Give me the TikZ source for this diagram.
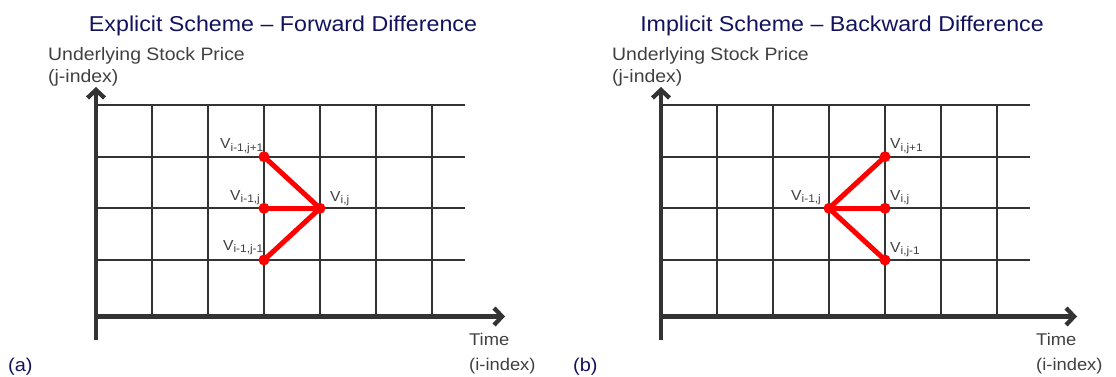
\documentclass[tikz,border=0pt]{standalone}
\usepackage{fontspec}
\setmainfont{Liberation Sans}[FakeStretch=1.08]
\usetikzlibrary{arrows.meta}
\definecolor{navy}{HTML}{12125E}
\definecolor{ink}{HTML}{333333}
\definecolor{txt}{HTML}{404040}
\definecolor{vred}{HTML}{FF0000}
\newcommand\Vlab[1]{V\raisebox{-2.8pt}{\fontsize{11}{11}\selectfont #1}}
\tikzset{
  gridline/.style={draw=ink, line width=2.2pt},
  axisline/.style={draw=ink, line width=4.3pt, -{Straight Barb[length=8pt,width=17pt]}},
  axisplain/.style={draw=ink, line width=4.3pt},
  vdot/.style={circle, fill=vred, draw=none, inner sep=0pt, minimum size=11pt},
  redline/.style={draw=vred, line width=5pt, line cap=round},
  titletext/.style={text=navy, inner sep=0pt, font=\fontsize{21.5}{24}\selectfont},
  axlabel/.style={text=txt, inner sep=0pt, align=left, font=\fontsize{18}{21.8}\selectfont},
  timelabel/.style={text=txt, inner sep=0pt, align=left, font=\fontsize{17}{24.5}\selectfont},
  vlabel/.style={text=txt, inner sep=0pt, font=\fontsize{14.5}{16}\selectfont},
  paneltag/.style={text=navy, inner sep=0pt, font=\fontsize{18.5}{20}\selectfont},
}
\begin{document}
\begin{tikzpicture}[x=1pt, y=-1pt]
\useasboundingbox (0,0) rectangle (1116,377);
% ================= panel (a) =================
\node[titletext, anchor=base] (Ltitle) at (283,31.6) {Explicit Scheme -- Forward Difference};
\node[axlabel, anchor=north west] (Lylab) at (48,47.5) {Underlying Stock Price\\(j-index)};
\node[timelabel, anchor=north west] (Lxlab) at (469,333) {Time\\(i-index)};
\node[paneltag, anchor=base west] (Ltag) at (8,371) {(a)};
% grid
\foreach \y in {105,156.7,208.3,260} \draw[gridline] (96,\y) -- (465,\y);
\foreach \x in {152,208,264,320,376,432} \draw[gridline] (\x,105) -- (\x,316.5);
% axes
\coordinate (Lyb) at (96,340);
\coordinate (Lyt) at (96,87);
\coordinate (Lxl) at (94,316.5);
\coordinate (Lxr) at (505,316.5);
\draw[axisline] (Lyb) -- (Lyt);
\draw[axisline] (Lxl) -- (Lxr);
% stencil
\node[vdot] (Lup) at (264,156.7) {};
\node[vdot] (Lmid) at (264,208.3) {};
\node[vdot] (Llow) at (264,260) {};
\node[vdot] (Lc) at (320,208.3) {};
\draw[redline] (Lup.center) -- (Lc.center);
\draw[redline] (Lmid.center) -- (Lc.center);
\draw[redline] (Llow.center) -- (Lc.center);
\node[vlabel, anchor=base east] (LupL) at (263.5,148.3) {\Vlab{i-1,j+1}};
\node[vlabel, anchor=base east] (LmidL) at (260,200) {\Vlab{i-1,j}};
\node[vlabel, anchor=base east] (LlowL) at (263.5,250) {\Vlab{i-1,j-1}};
\node[vlabel, anchor=base west] (LcL) at (330,201) {\Vlab{i,j}};
% ================= panel (b) =================
\node[titletext, anchor=base] (Rtitle) at (842,31.6) {Implicit Scheme -- Backward Difference};
\node[axlabel, anchor=north west] (Rylab) at (612,47.5) {Underlying Stock Price\\(j-index)};
\node[timelabel, anchor=north west] (Rxlab) at (1036,333) {Time\\(i-index)};
\node[paneltag, anchor=base west] (Rtag) at (573,371) {(b)};
\foreach \y in {105,156.7,208.3,260} \draw[gridline] (661,\y) -- (1030,\y);
\foreach \x in {717,773,829,885,941,997} \draw[gridline] (\x,105) -- (\x,316.5);
\coordinate (Ryb) at (661,340);
\coordinate (Ryt) at (661,87);
\coordinate (Rxl) at (659,316.5);
\coordinate (Rxr) at (1077,316.5);
\draw[axisline] (Ryb) -- (Ryt);
\draw[axisline] (Rxl) -- (Rxr);
\node[vdot] (Rc) at (829,208.3) {};
\node[vdot] (Rup) at (885,156.7) {};
\node[vdot] (Rmid) at (885,208.3) {};
\node[vdot] (Rlow) at (885,260) {};
\draw[redline] (Rc.center) -- (Rup.center);
\draw[redline] (Rc.center) -- (Rmid.center);
\draw[redline] (Rc.center) -- (Rlow.center);
\node[vlabel, anchor=base west] (RupL) at (890,149) {\Vlab{i,j+1}};
\node[vlabel, anchor=base west] (RmidL) at (890,200) {\Vlab{i,j}};
\node[vlabel, anchor=base west] (RlowL) at (890,252) {\Vlab{i,j-1}};
\node[vlabel, anchor=base east] (RcL) at (821,200) {\Vlab{i-1,j}};
\end{tikzpicture}
\end{document}
